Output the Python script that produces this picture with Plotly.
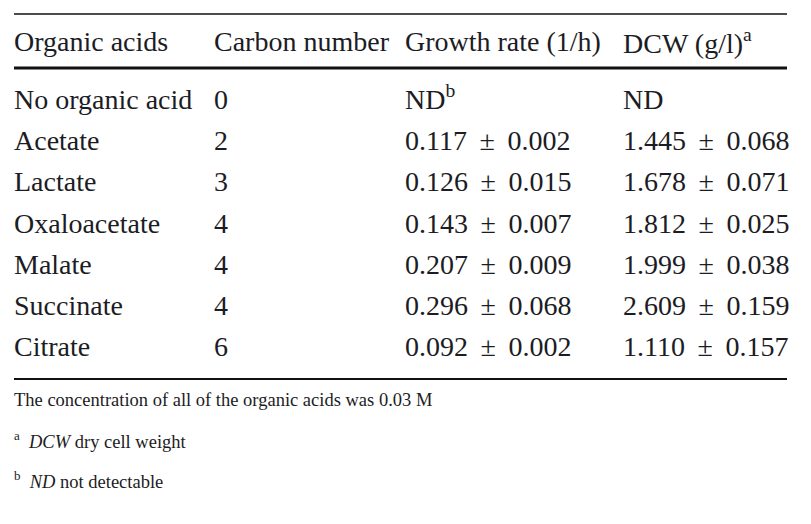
import plotly.graph_objs as go

# table content
headers = ['Organic acids', 'Carbon number', 'Growth rate (1/h)', 'DCW (g/l)<sup>a</sup>']
acids = ['No organic acid', 'Acetate', 'Lactate', 'Oxaloacetate', 'Malate', 'Succinate', 'Citrate']
carbon_number = [0, 2, 3, 4, 4, 4, 6]
growth_mean = [None, 0.117, 0.126, 0.143, 0.207, 0.296, 0.092]
growth_sd = [None, 0.002, 0.015, 0.007, 0.009, 0.068, 0.002]
dcw_mean = [None, 1.445, 1.678, 1.812, 1.999, 2.609, 1.110]
dcw_sd = [None, 0.068, 0.071, 0.025, 0.038, 0.159, 0.157]
footnotes = ['The concentration of all of the organic acids was 0.03 M',
             '<sup>a</sup>  <i>DCW</i> dry cell weight',
             '<sup>b</sup>  <i>ND</i> not detectable']


def fmt(m, s, nd):
    if m is None:
        return nd
    return '%.3f \u2009\u00b1\u2009 %.3f' % (m, s)


growth_txt = [fmt(m, s, 'ND<sup>b</sup>') for m, s in zip(growth_mean, growth_sd)]
dcw_txt = [fmt(m, s, 'ND') for m, s in zip(dcw_mean, dcw_sd)]

# layout in page pixels (page body has an 8px margin)
col_x = [14, 214, 405, 623]
row_y = [102 + 41.2 * i for i in range(len(acids))]
font = dict(family='Liberation Serif', size=28, color='#1c1c24')

fig = go.Figure()
columns = [acids, [str(c) for c in carbon_number], growth_txt, dcw_txt]
for x0, col in zip(col_x, columns):
    fig.add_trace(go.Scatter(x=[x0] * len(col), y=row_y, text=col, mode='text',
                             textposition='middle right', textfont=font,
                             hoverinfo='skip', showlegend=False))

annotations = []
for x0, h in zip([12, 212, 403, 621], headers):
    annotations.append(dict(x=x0, y=41, text=h, showarrow=False, xanchor='left',
                            yanchor='middle', font=font))
for i, t in enumerate(footnotes):
    annotations.append(dict(x=12, y=400 + 40 * i, text=t, showarrow=False,
                            xanchor='left', yanchor='middle',
                            font=dict(family='Liberation Serif', size=18.5, color='#1c1c24')))

shapes = [
    dict(type='line', x0=14, x1=787, y0=14, y1=14, line=dict(color='#111', width=1.6)),
    dict(type='line', x0=14, x1=787, y0=68, y1=68, line=dict(color='#111', width=3)),
    dict(type='line', x0=14, x1=787, y0=379, y1=379, line=dict(color='#111', width=2)),
]

fig.update_layout(
    width=803, height=516,
    margin=dict(l=0, r=0, t=0, b=0),
    paper_bgcolor='white', plot_bgcolor='white',
    xaxis=dict(range=[8, 811], visible=False, fixedrange=True),
    yaxis=dict(range=[524, 8], visible=False, fixedrange=True),
    annotations=annotations,
    shapes=shapes,
)

fig.write_html("out.html")
